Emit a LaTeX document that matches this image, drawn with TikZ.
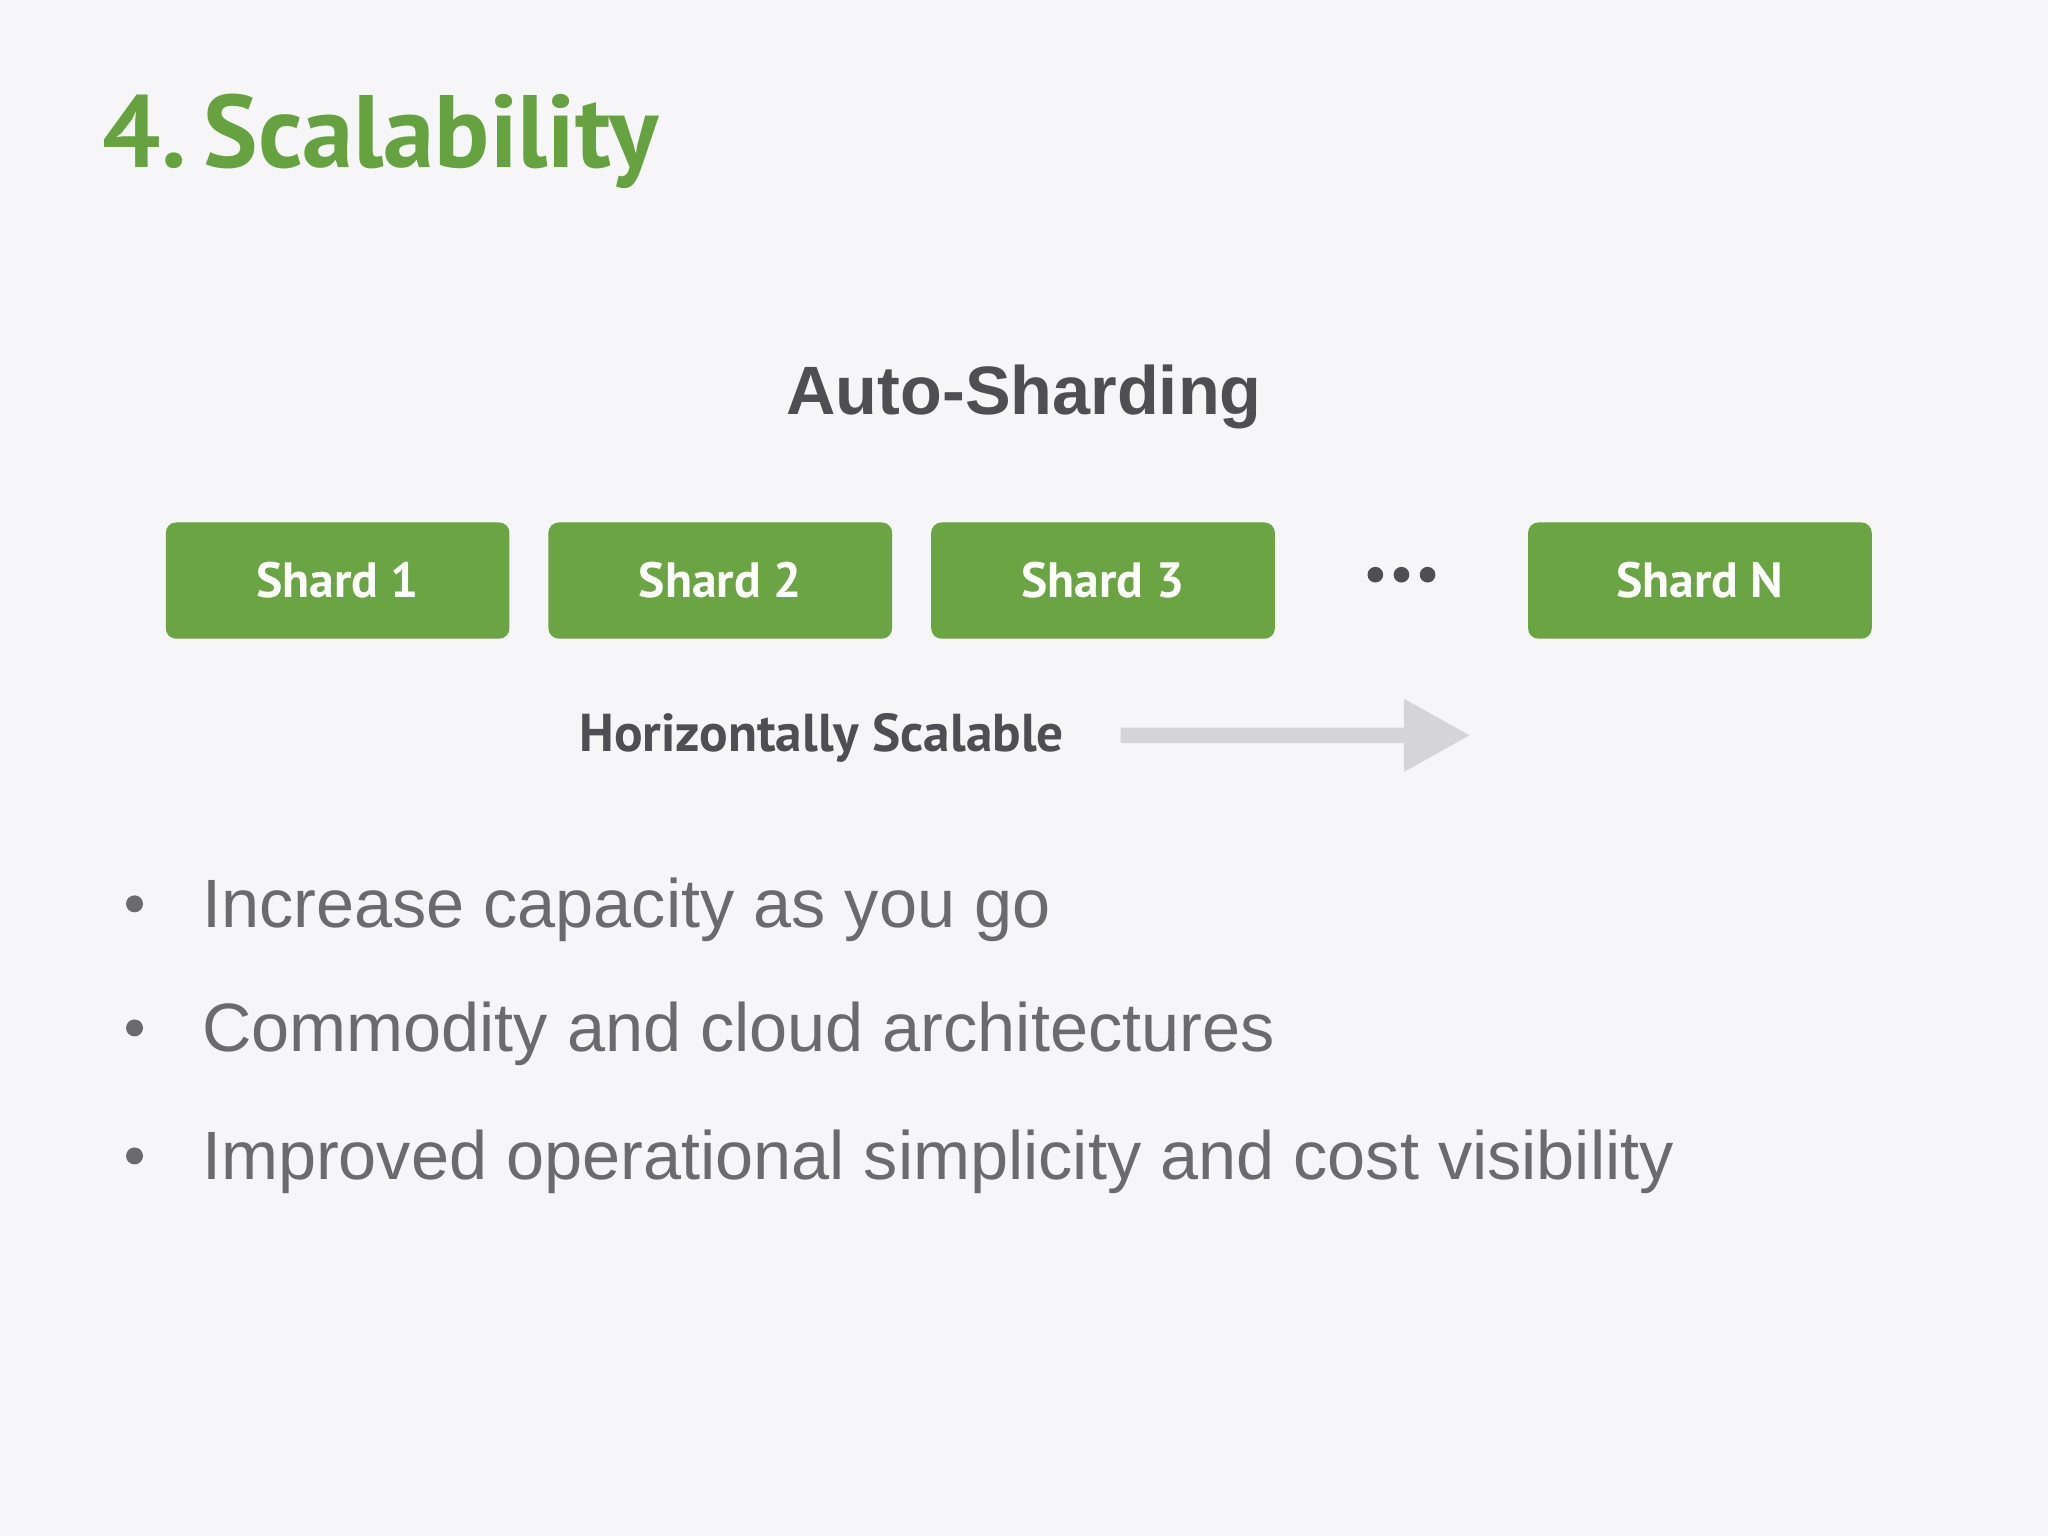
\documentclass[tikz,border=0pt]{standalone}
\usepackage{fontspec}
\setmainfont{Liberation Sans}
\newfontfamily\pts{PT Sans}
\definecolor{bg}{HTML}{F6F6F8}
\definecolor{grn}{HTML}{6AA443}
\definecolor{ttl}{HTML}{66A340}
\definecolor{dk}{HTML}{4F4E52}
\definecolor{txt}{HTML}{6B6B6E}
\definecolor{arr}{HTML}{D5D5D7}
\begin{document}
\begin{tikzpicture}[x=0.01cm,y=-0.01cm,
  shard/.style={fill=grn,rounded corners=0.08cm,minimum width=2.63cm,minimum height=0.89cm,inner sep=0,text=white,font=\pts\bfseries\fontsize{10.8}{13}\selectfont},
  bul/.style={anchor=base west,text=txt,font=\fontsize{14.9}{18}\selectfont,inner sep=0}]
\fill[bg] (0,0) rectangle (1568,1176);
\useasboundingbox (0,0) rectangle (1568,1176);
\node[anchor=base west,inner sep=0,text=ttl,font=\pts\bfseries\fontsize{22.4}{26}\selectfont] (title) at (78,128) {4.\,Scalability};
\node[text=dk,font=\bfseries\fontsize{14.9}{18}\selectfont,inner sep=0] (auto) at (784,304) {Auto-Sharding};
\node[shard] (s1) at (258.5,444.5) {Shard 1};
\node[shard] (s2) at (551.5,444.5) {Shard 2};
\node[shard] (s3) at (844.5,444.5) {Shard 3};
\node[shard] (sn) at (1301.5,444.5) {Shard N};
\foreach \x in {1053,1073,1093} \fill[dk] (\x,440) circle (6);
\node[text=dk,font=\pts\bfseries\fontsize{11.6}{14}\selectfont,inner sep=0] (hs) at (629,565) {Horizontally Scalable};
\fill[arr] (858,557) -- (1075,557) -- (1075,535) -- (1125,563) -- (1075,591) -- (1075,569) -- (858,569) -- cycle;
\foreach \y/\t [count=\i] in {710/Increase capacity as you go,805/Commodity and cloud architectures,903/Improved operational simplicity and cost visibility}{
  \fill[txt] (103,\y-18) circle (6.5);
  \node[bul] (b\i) at (154,\y) {\t};
}
\end{tikzpicture}
\end{document}
